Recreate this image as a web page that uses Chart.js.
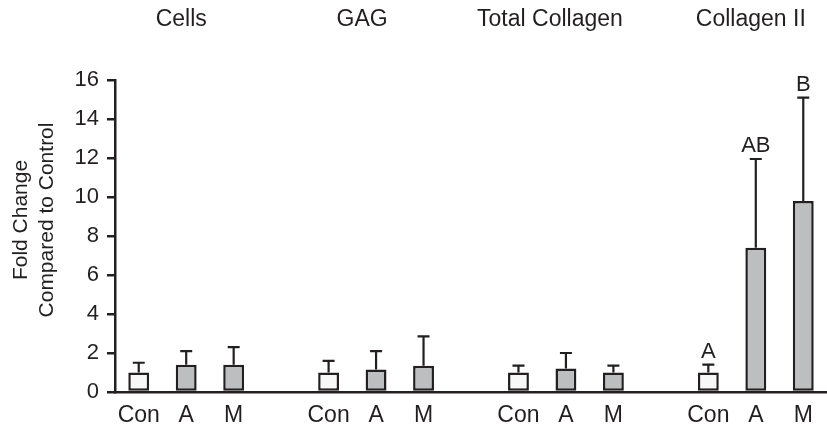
<!DOCTYPE html>
<html>
<head>
<meta charset="utf-8">
<script src="https://cdn.jsdelivr.net/npm/chart.js@4"></script>
<style>
  html, body { margin: 0; padding: 0; background: #fff; }
  #wrap { width: 827px; height: 430px; }
</style>
</head>
<body>
<div id="wrap"><canvas id="foldChart"></canvas></div>
<script>
// Data
const groupNames = ['Cells', 'GAG', 'Total Collagen', 'Collagen II'];
const treatments = ['Con', 'A', 'M'];
const cellsMean = [1.0, 1.4, 1.4];
const gagMean = [1.0, 1.15, 1.35];
const totalCollagenMean = [1.0, 1.2, 1.0];
const collagen2Mean = [1.0, 7.4, 9.8];
const cellsErr = [0.5, 0.7, 0.9];
const gagErr = [0.6, 0.95, 1.5];
const totalCollagenErr = [0.35, 0.8, 0.35];
const collagen2Err = [0.4, 4.55, 5.3];
const collagen2Letters = ['A', 'AB', 'B'];

const INK = '#231f20';
const FONT = '"Liberation Sans", Arial, Helvetica, sans-serif';

const means = [cellsMean, gagMean, totalCollagenMean, collagen2Mean];
const errs = [cellsErr, gagErr, totalCollagenErr, collagen2Err];
const letters = [[], [], [], collagen2Letters];

// flatten into one category axis with an empty slot between groups
const labels = [];
const values = [];
const errValues = [];
const letterValues = [];
const fills = [];
groupNames.forEach((g, gi) => {
    treatments.forEach((t, ti) => {
        labels.push(t);
        values.push(means[gi][ti]);
        errValues.push(errs[gi][ti]);
        letterValues.push(letters[gi][ti] || '');
        fills.push(t === 'Con' ? '#f7f7f7' : '#bcbec0');
    });
    if (gi < groupNames.length - 1) {
        labels.push('');
        values.push(null);
        errValues.push(null);
        letterValues.push('');
        fills.push('transparent');
    }
});

// error bars + significance letters
const errorBarPlugin = {
    id: 'errorBars',
    afterDatasetsDraw(chart) {
        const ctx = chart.ctx;
        const y = chart.scales.y;
        const meta = chart.getDatasetMeta(0);
        ctx.save();
        ctx.strokeStyle = INK;
        ctx.fillStyle = INK;
        ctx.lineWidth = 2.2;
        meta.data.forEach((bar, i) => {
            if (values[i] === null) return;
            const top = y.getPixelForValue(values[i] + errValues[i]);
            ctx.beginPath();
            ctx.moveTo(bar.x, bar.y);
            ctx.lineTo(bar.x, top);
            ctx.moveTo(bar.x - 6, top);
            ctx.lineTo(bar.x + 6, top);
            ctx.stroke();
            if (letterValues[i]) {
                ctx.font = '22px ' + FONT;
                ctx.textAlign = 'center';
                ctx.textBaseline = 'alphabetic';
                ctx.fillText(letterValues[i], bar.x, top - 7);
            }
        });
        ctx.restore();
    }
};

// group headers and two-line y title
const titlesPlugin = {
    id: 'groupTitles',
    afterDraw(chart) {
        const ctx = chart.ctx;
        const x = chart.scales.x;
        const nudge = [-5, -14, -16, -5];
        ctx.save();
        ctx.fillStyle = INK;
        ctx.font = '23px ' + FONT;
        ctx.textAlign = 'center';
        ctx.textBaseline = 'middle';
        groupNames.forEach((g, gi) => {
            const mid = x.getPixelForValue(gi * 4 + 1);
            ctx.fillText(g, mid + nudge[gi], 20);
        });
        ctx.font = '21px ' + FONT;
        ctx.translate(0, 220);
        ctx.rotate(-Math.PI / 2);
        ctx.fillText('Fold Change', 0, 21);
        ctx.fillText('Compared to Control', 0, 47);
        ctx.restore();
    }
};

const ctx = document.getElementById('foldChart').getContext('2d');
new Chart(ctx, {
    type: 'bar',
    data: {
        labels: labels,
        datasets: [{
            data: values,
            backgroundColor: fills,
            borderColor: INK,
            borderWidth: 2.5,
            borderSkipped: false,
            categoryPercentage: 1,
            barPercentage: 0.44
        }]
    },
    options: {
        responsive: true,
        maintainAspectRatio: false,
        animation: false,
        layout: { padding: { top: 80, left: 0, right: 0, bottom: 0 } },
        plugins: {
            legend: { display: false },
            tooltip: { enabled: false }
        },
        scales: {
            x: {
                grid: { display: true, drawOnChartArea: false, drawTicks: false, color: 'transparent' },
                border: { display: true, color: INK, width: 2.5 },
                ticks: {
                    color: INK,
                    font: { family: FONT, size: 23 },
                    padding: 10,
                    autoSkip: false,
                    maxRotation: 0
                },
                afterFit(scale) { scale.height = 38; }
            },
            y: {
                min: 0,
                max: 16,
                grid: { display: true, drawOnChartArea: false, drawTicks: true, tickLength: 8, color: INK, lineWidth: 2.5 },
                border: { display: true, color: INK, width: 2.5 },
                ticks: {
                    stepSize: 2,
                    color: INK,
                    font: { family: FONT, size: 22 },
                    padding: 8
                },
                afterFit(scale) { scale.width = 115; }
            }
        }
    },
    plugins: [errorBarPlugin, titlesPlugin]
});
</script>
</body>
</html>
